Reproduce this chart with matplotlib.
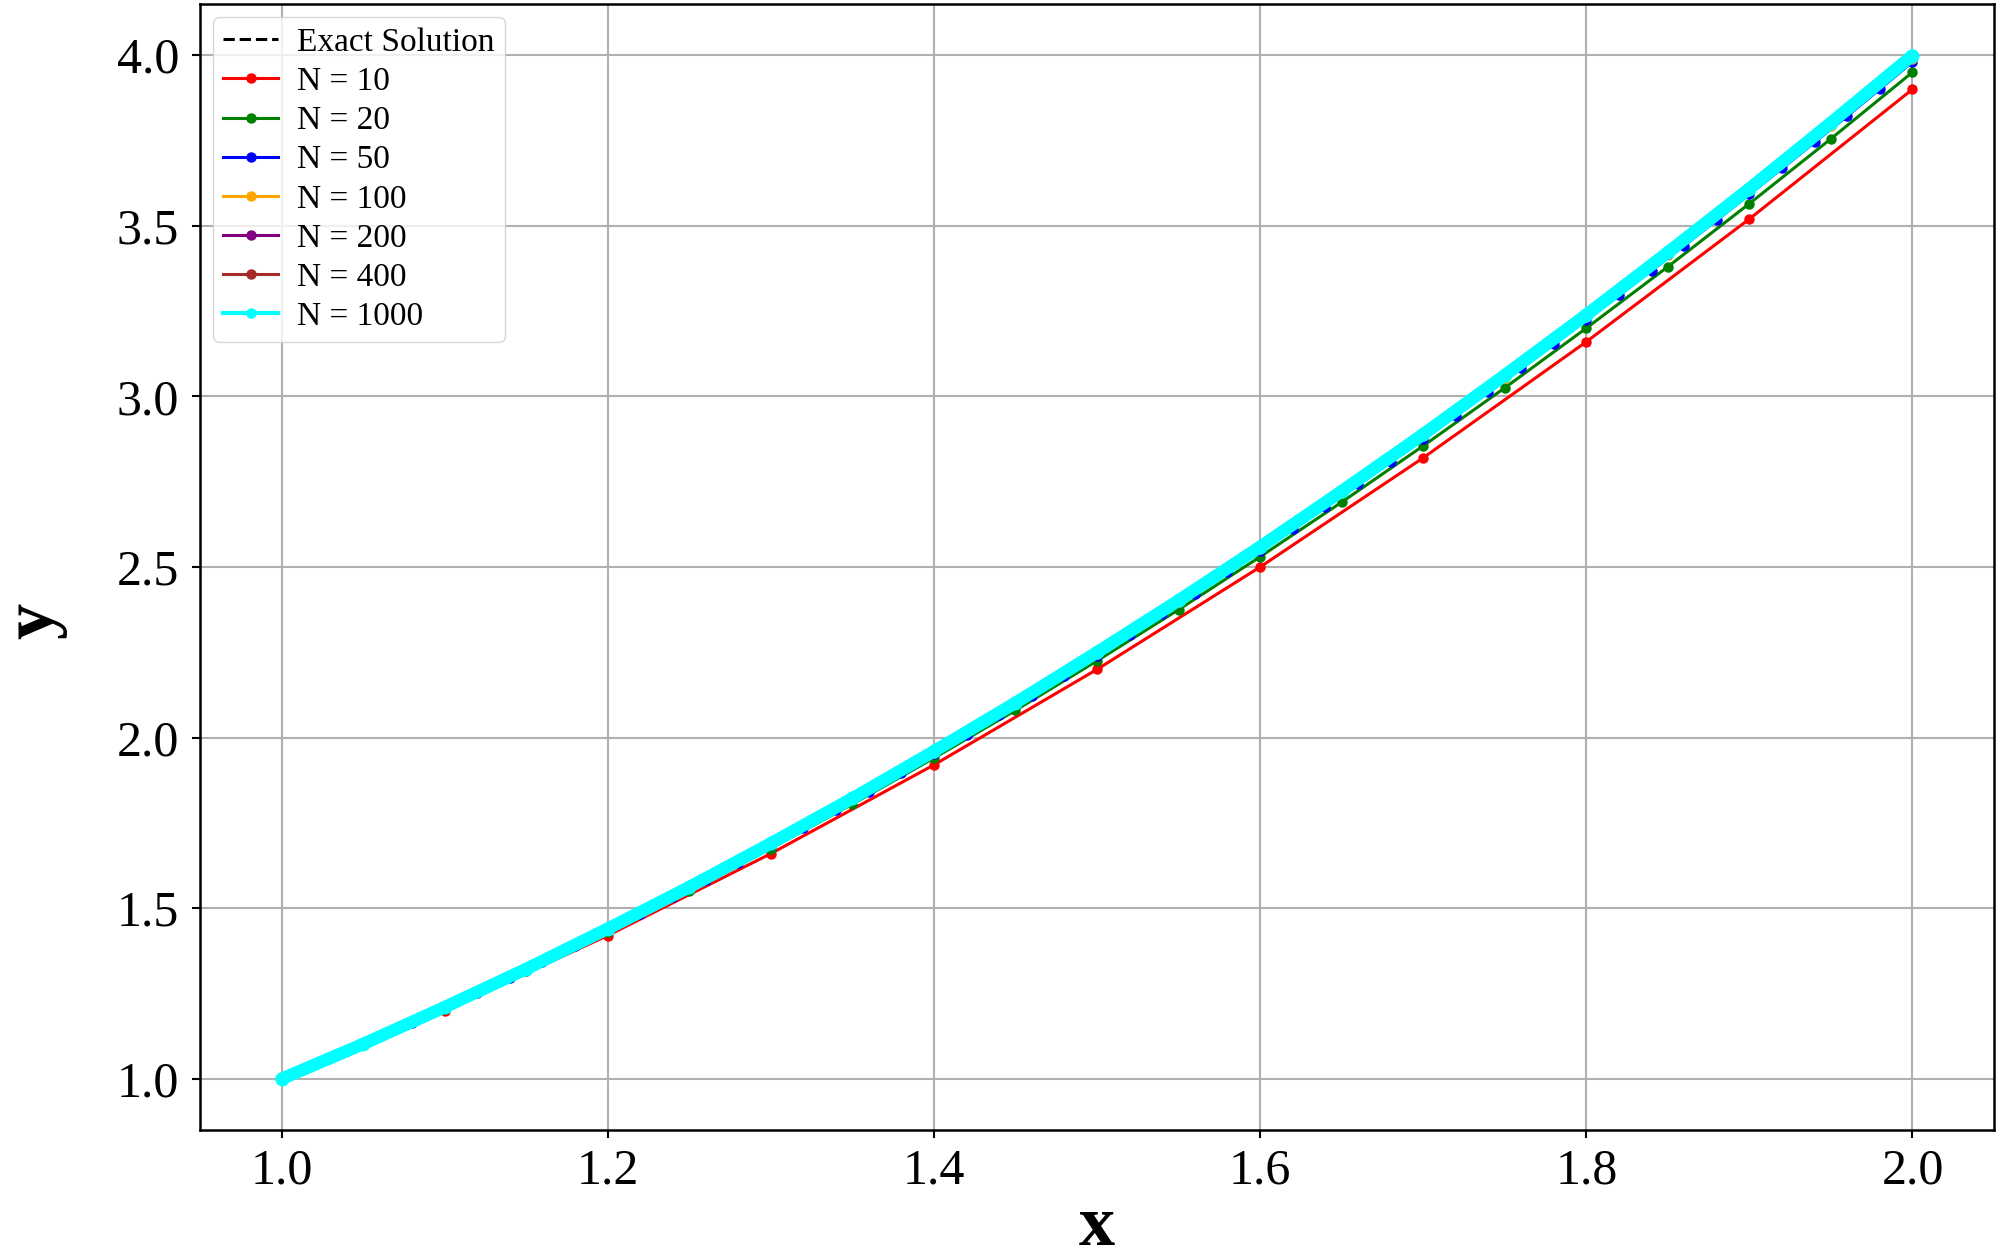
import matplotlib
matplotlib.use("Agg")
import matplotlib.pyplot as plt
from matplotlib.lines import Line2D

plt.rcParams['font.family'] = ['Liberation Serif', 'DejaVu Serif']

# ---- data ----
# coarse grid (step 0.05) used for exact solution and the dense runs
x_fine = [1.00, 1.05, 1.10, 1.15, 1.20, 1.25, 1.30, 1.35, 1.40, 1.45, 1.50,
          1.55, 1.60, 1.65, 1.70, 1.75, 1.80, 1.85, 1.90, 1.95, 2.00]
y_exact = [1.000, 1.1025, 1.210, 1.3225, 1.440, 1.5625, 1.690, 1.8225, 1.960, 2.1025, 2.250,
           2.4025, 2.560, 2.7225, 2.890, 3.0625, 3.240, 3.4225, 3.610, 3.8025, 4.000]

x_10 = [1.0, 1.1, 1.2, 1.3, 1.4, 1.5, 1.6, 1.7, 1.8, 1.9, 2.0]
y_10 = [1.00, 1.20, 1.42, 1.66, 1.92, 2.20, 2.50, 2.82, 3.16, 3.52, 3.90]

x_20 = x_fine
y_20 = [1.000, 1.100, 1.205, 1.315, 1.430, 1.550, 1.675, 1.805, 1.940, 2.080, 2.225,
        2.375, 2.530, 2.690, 2.855, 3.025, 3.200, 3.380, 3.565, 3.755, 3.950]

x_50 = [1.00, 1.02, 1.04, 1.06, 1.08, 1.10, 1.12, 1.14, 1.16, 1.18, 1.20,
        1.22, 1.24, 1.26, 1.28, 1.30, 1.32, 1.34, 1.36, 1.38, 1.40,
        1.42, 1.44, 1.46, 1.48, 1.50, 1.52, 1.54, 1.56, 1.58, 1.60,
        1.62, 1.64, 1.66, 1.68, 1.70, 1.72, 1.74, 1.76, 1.78, 1.80,
        1.82, 1.84, 1.86, 1.88, 1.90, 1.92, 1.94, 1.96, 1.98, 2.00]
y_50 = [1.000, 1.040, 1.081, 1.122, 1.165, 1.208, 1.252, 1.297, 1.342, 1.389, 1.436,
        1.484, 1.533, 1.582, 1.633, 1.684, 1.736, 1.789, 1.842, 1.897, 1.952,
        2.008, 2.065, 2.122, 2.181, 2.240, 2.300, 2.361, 2.422, 2.485, 2.548,
        2.612, 2.677, 2.742, 2.809, 2.876, 2.944, 3.013, 3.082, 3.153, 3.224,
        3.296, 3.369, 3.442, 3.517, 3.592, 3.668, 3.745, 3.822, 3.901, 3.980]

y_100 = [1.000, 1.102, 1.209, 1.321, 1.438, 1.560, 1.687, 1.819, 1.956, 2.098, 2.245,
         2.397, 2.554, 2.716, 2.883, 3.055, 3.232, 3.414, 3.601, 3.793, 3.990]
y_200 = [1.000, 1.102, 1.210, 1.322, 1.439, 1.561, 1.688, 1.821, 1.958, 2.100, 2.248,
         2.400, 2.557, 2.719, 2.886, 3.059, 3.236, 3.418, 3.606, 3.798, 3.995]
y_400 = [1.000, 1.102, 1.210, 1.322, 1.439, 1.562, 1.689, 1.821, 1.959, 2.101, 2.249,
         2.401, 2.558, 2.721, 2.888, 3.061, 3.238, 3.420, 3.608, 3.800, 3.998]
y_1000 = [1.000, 1.102, 1.210, 1.322, 1.440, 1.562, 1.690, 1.822, 1.960, 2.102, 2.250,
          2.402, 2.559, 2.722, 2.889, 3.062, 3.239, 3.422, 3.609, 3.802, 3.999]

runs = [
    ("N = 10", x_10, y_10, "red"),
    ("N = 20", x_20, y_20, "green"),
    ("N = 50", x_50, y_50, "blue"),
    ("N = 100", x_fine, y_100, "orange"),
    ("N = 200", x_fine, y_200, "purple"),
    ("N = 400", x_fine, y_400, "brown"),
]

fig = plt.figure(figsize=(20, 12.56), dpi=100)
ax = fig.add_axes([0.1, 0.1003, 0.897, 0.8965])

ax.plot(x_fine, y_exact, '--', color='black', lw=2.2, label="Exact Solution")
for label, xs, ys, c in runs:
    ax.plot(xs, ys, '-o', color=c, lw=2.2, ms=6.5, label=label)

# N = 1000 is so dense its markers merge into a thick band
ax.plot(x_fine, y_1000, '-o', color='cyan', lw=9, ms=9, solid_capstyle='round')

handles, labels = ax.get_legend_handles_labels()
handles.append(Line2D([], [], color='cyan', lw=3, marker='o', ms=6.5))
labels.append("N = 1000")
ax.legend(handles, labels, loc='upper left', fontsize=24, labelspacing=0.26,
          handlelength=1.65, handletextpad=0.57, borderpad=0.3,
          borderaxespad=0.4)

ax.set_xlim(0.95, 2.05)
ax.set_ylim(0.85, 4.15)
ax.set_xticks([1.0, 1.2, 1.4, 1.6, 1.8, 2.0])
ax.set_yticks([1.0, 1.5, 2.0, 2.5, 3.0, 3.5, 4.0])
ax.grid(True, color='#b0b0b0', lw=1.5)
ax.tick_params(labelsize=36, length=6, width=1.5, pad=7)
ax.tick_params(axis='y', pad=9)
for s in ax.spines.values():
    s.set_linewidth(1.8)

ax.set_xlabel("x", fontsize=52, fontweight='bold', labelpad=0)
ax.set_ylabel("y", fontsize=52, fontweight='bold')
ax.yaxis.set_label_coords(-0.074, 0.452)

fig.savefig("out.png", dpi=100)
